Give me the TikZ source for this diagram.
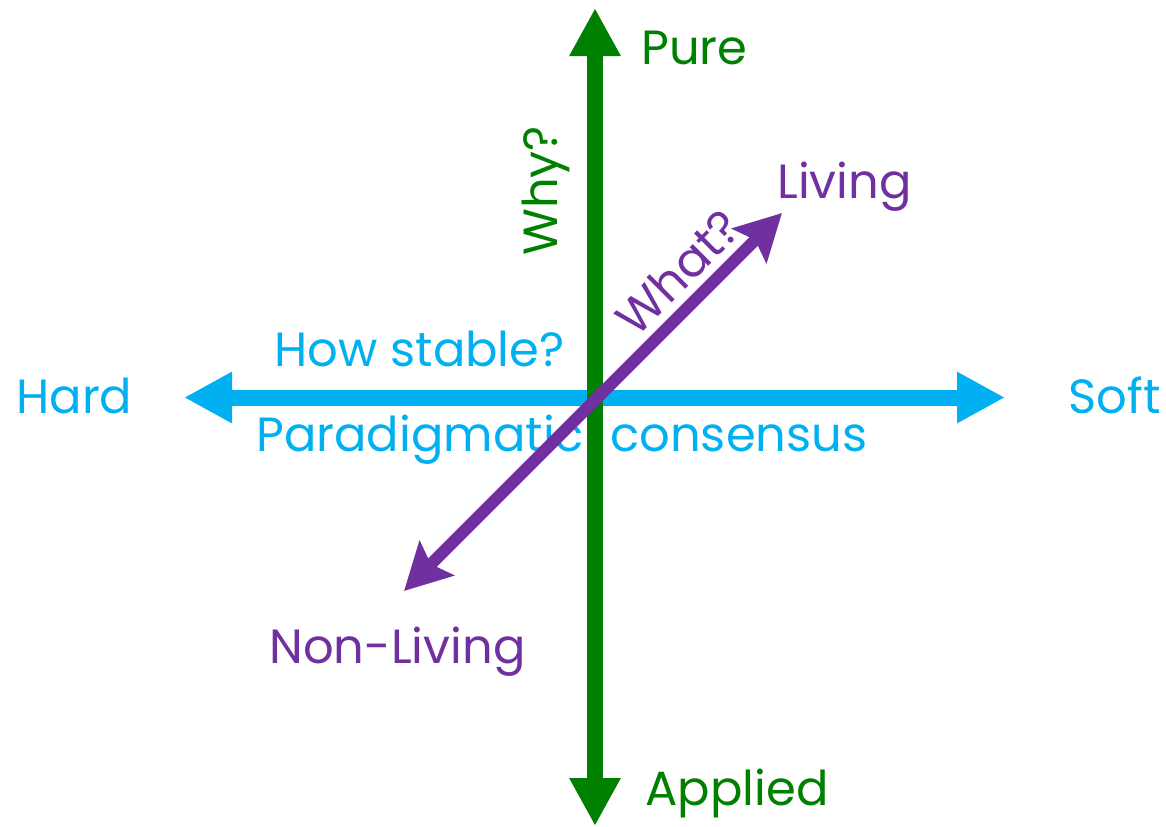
\documentclass[tikz,border=0pt]{standalone}
\usepackage{fontspec}
\setmainfont{Poppins}
\usetikzlibrary{arrows.meta}
\definecolor{purecol}{HTML}{008000}
\definecolor{hardcol}{HTML}{00B0F0}
\definecolor{livecol}{HTML}{7030A0}

\begin{document}
\begin{tikzpicture}[x=0.5pt, y=-0.5pt, font=\fontsize{24}{28}\selectfont,
  axis/.style={line width=8pt, {Triangle[length=24pt,width=24pt]}-{Triangle[length=24pt,width=24pt]}},
  diag/.style={line width=6pt, {Stealth[length=23pt,width=24pt,inset=4pt]}-{Stealth[length=23pt,width=24pt,inset=4pt]}}]
  \useasboundingbox (0,0) rectangle (1166,826);
  % end points
  \coordinate (hard) at (184,397.5);
  \coordinate (soft) at (1005,397.5);
  \coordinate (pure) at (595,8);
  \coordinate (applied) at (595,826);
  \coordinate (nonliving) at (404,591);
  \coordinate (living) at (782,213);
  % labels
  \node[hardcol,anchor=base west,inner sep=0] (paradigm) at (256,451) {Paradigmatic\hspace{0.55em}consensus};
  \node[hardcol,anchor=base west,inner sep=0] (stable) at (274,366) {How stable?};
  \node[hardcol,anchor=base west,inner sep=0] (hardlbl) at (16,413) {Hard};
  \node[hardcol,anchor=base west,inner sep=0] (softlbl) at (1068,413) {Soft};
  \node[purecol,anchor=base west,inner sep=0] (purelbl) at (641,64) {Pure};
  \node[purecol,anchor=base west,inner sep=0] (appliedlbl) at (645,805) {Applied};
  \node[purecol,anchor=base west,inner sep=0,rotate=90] (why) at (557,256) {Why?};
  \node[livecol,anchor=base west,inner sep=0] (livinglbl) at (777,198) {Living};
  \node[livecol,anchor=base west,inner sep=0] (nonlivinglbl) at (269,663) {Non-Living};
  \node[livecol,inner sep=0,rotate=45] (what) at (678,272) {What?};
  % axes
  \draw[axis,hardcol] (hard) -- (soft);
  \draw[axis,purecol] (applied) -- (pure);
  \draw[diag,livecol] (nonliving) -- (living);
\end{tikzpicture}
\end{document}
